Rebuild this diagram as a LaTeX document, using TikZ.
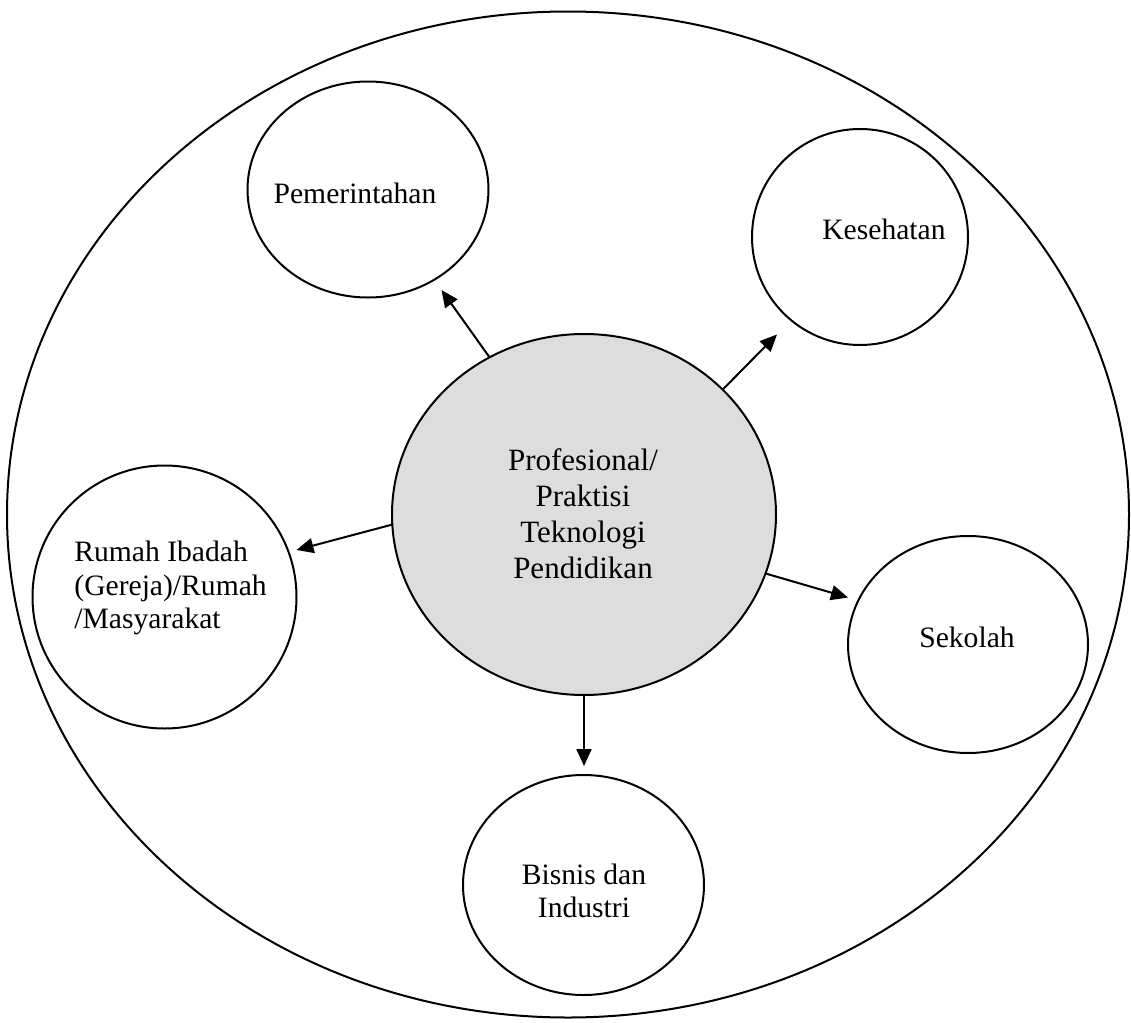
\documentclass[tikz,border=0pt]{standalone}
\usepackage{fontspec}
\setmainfont{Liberation Serif}
\usetikzlibrary{shapes.geometric,arrows.meta}
\definecolor{coregray}{RGB}{221,221,221}
\tikzset{
  bubble/.style={draw=black, line width=1pt, ellipse, inner sep=0pt, outer sep=0pt},
  lbl/.style={font=\fontsize{14.8}{16.7}\selectfont, inner sep=0pt, align=center},
  link/.style={line width=1pt, -{Triangle[length=8.5pt,width=7.5pt]}}
}
\begin{document}
\begin{tikzpicture}[x=0.5pt,y=-0.5pt]
\useasboundingbox (0,0) rectangle (1131,1023);
% outer ellipse
\node[bubble, minimum width=561pt, minimum height=503pt] (outer) at (568,514.5) {};
% central
\node[bubble, fill=coregray, minimum width=192pt, minimum height=180.5pt] (core) at (584,514.5) {};
\node[font=\fontsize{15.5}{18}\selectfont, inner sep=0pt, align=center] (coretext) at (583,514)
  {Profesional/\\Praktisi\\Teknologi\\Pendidikan};
% satellites
\node[bubble, minimum width=120.5pt, minimum height=108pt] (pem) at (368,189.5) {};
\node[bubble, minimum width=108pt, minimum height=108pt] (kes) at (860,237) {};
\node[bubble, minimum width=132pt, minimum height=131.5pt] (rum) at (164.5,597) {};
\node[bubble, minimum width=120pt, minimum height=108.5pt] (sek) at (968,644.5) {};
\node[bubble, minimum width=120.5pt, minimum height=110pt] (bis) at (583.5,885) {};
% labels
\node[lbl] (pemtext) at (355,193) {Pemerintahan};
\node[lbl] (kestext) at (884,229) {Kesehatan};
\node[lbl, align=left, anchor=west] (rumtext) at (74,588) {Rumah Ibadah\\(Gereja)/Rumah\\/Masyarakat};
\node[lbl] (sektext) at (967,637) {Sekolah};
\node[lbl] (bistext) at (584,891) {Bisnis dan\\Industri};
% arrow tips
\coordinate (tpem) at (441.5,290);
\coordinate (tkes) at (777,334.5);
\coordinate (trum) at (296.5,550);
\coordinate (tsek) at (848,597.5);
\coordinate (tbis) at (584,766);
% connectors
\draw[link] (core.121.9) -- (tpem);
\draw[link] (core.42.5) -- (tkes);
\draw[link] (core.183.9) -- (trum);
\draw[link] (core.342.6) -- (tsek);
\draw[link] (core.270) -- (tbis);
\end{tikzpicture}
\end{document}
